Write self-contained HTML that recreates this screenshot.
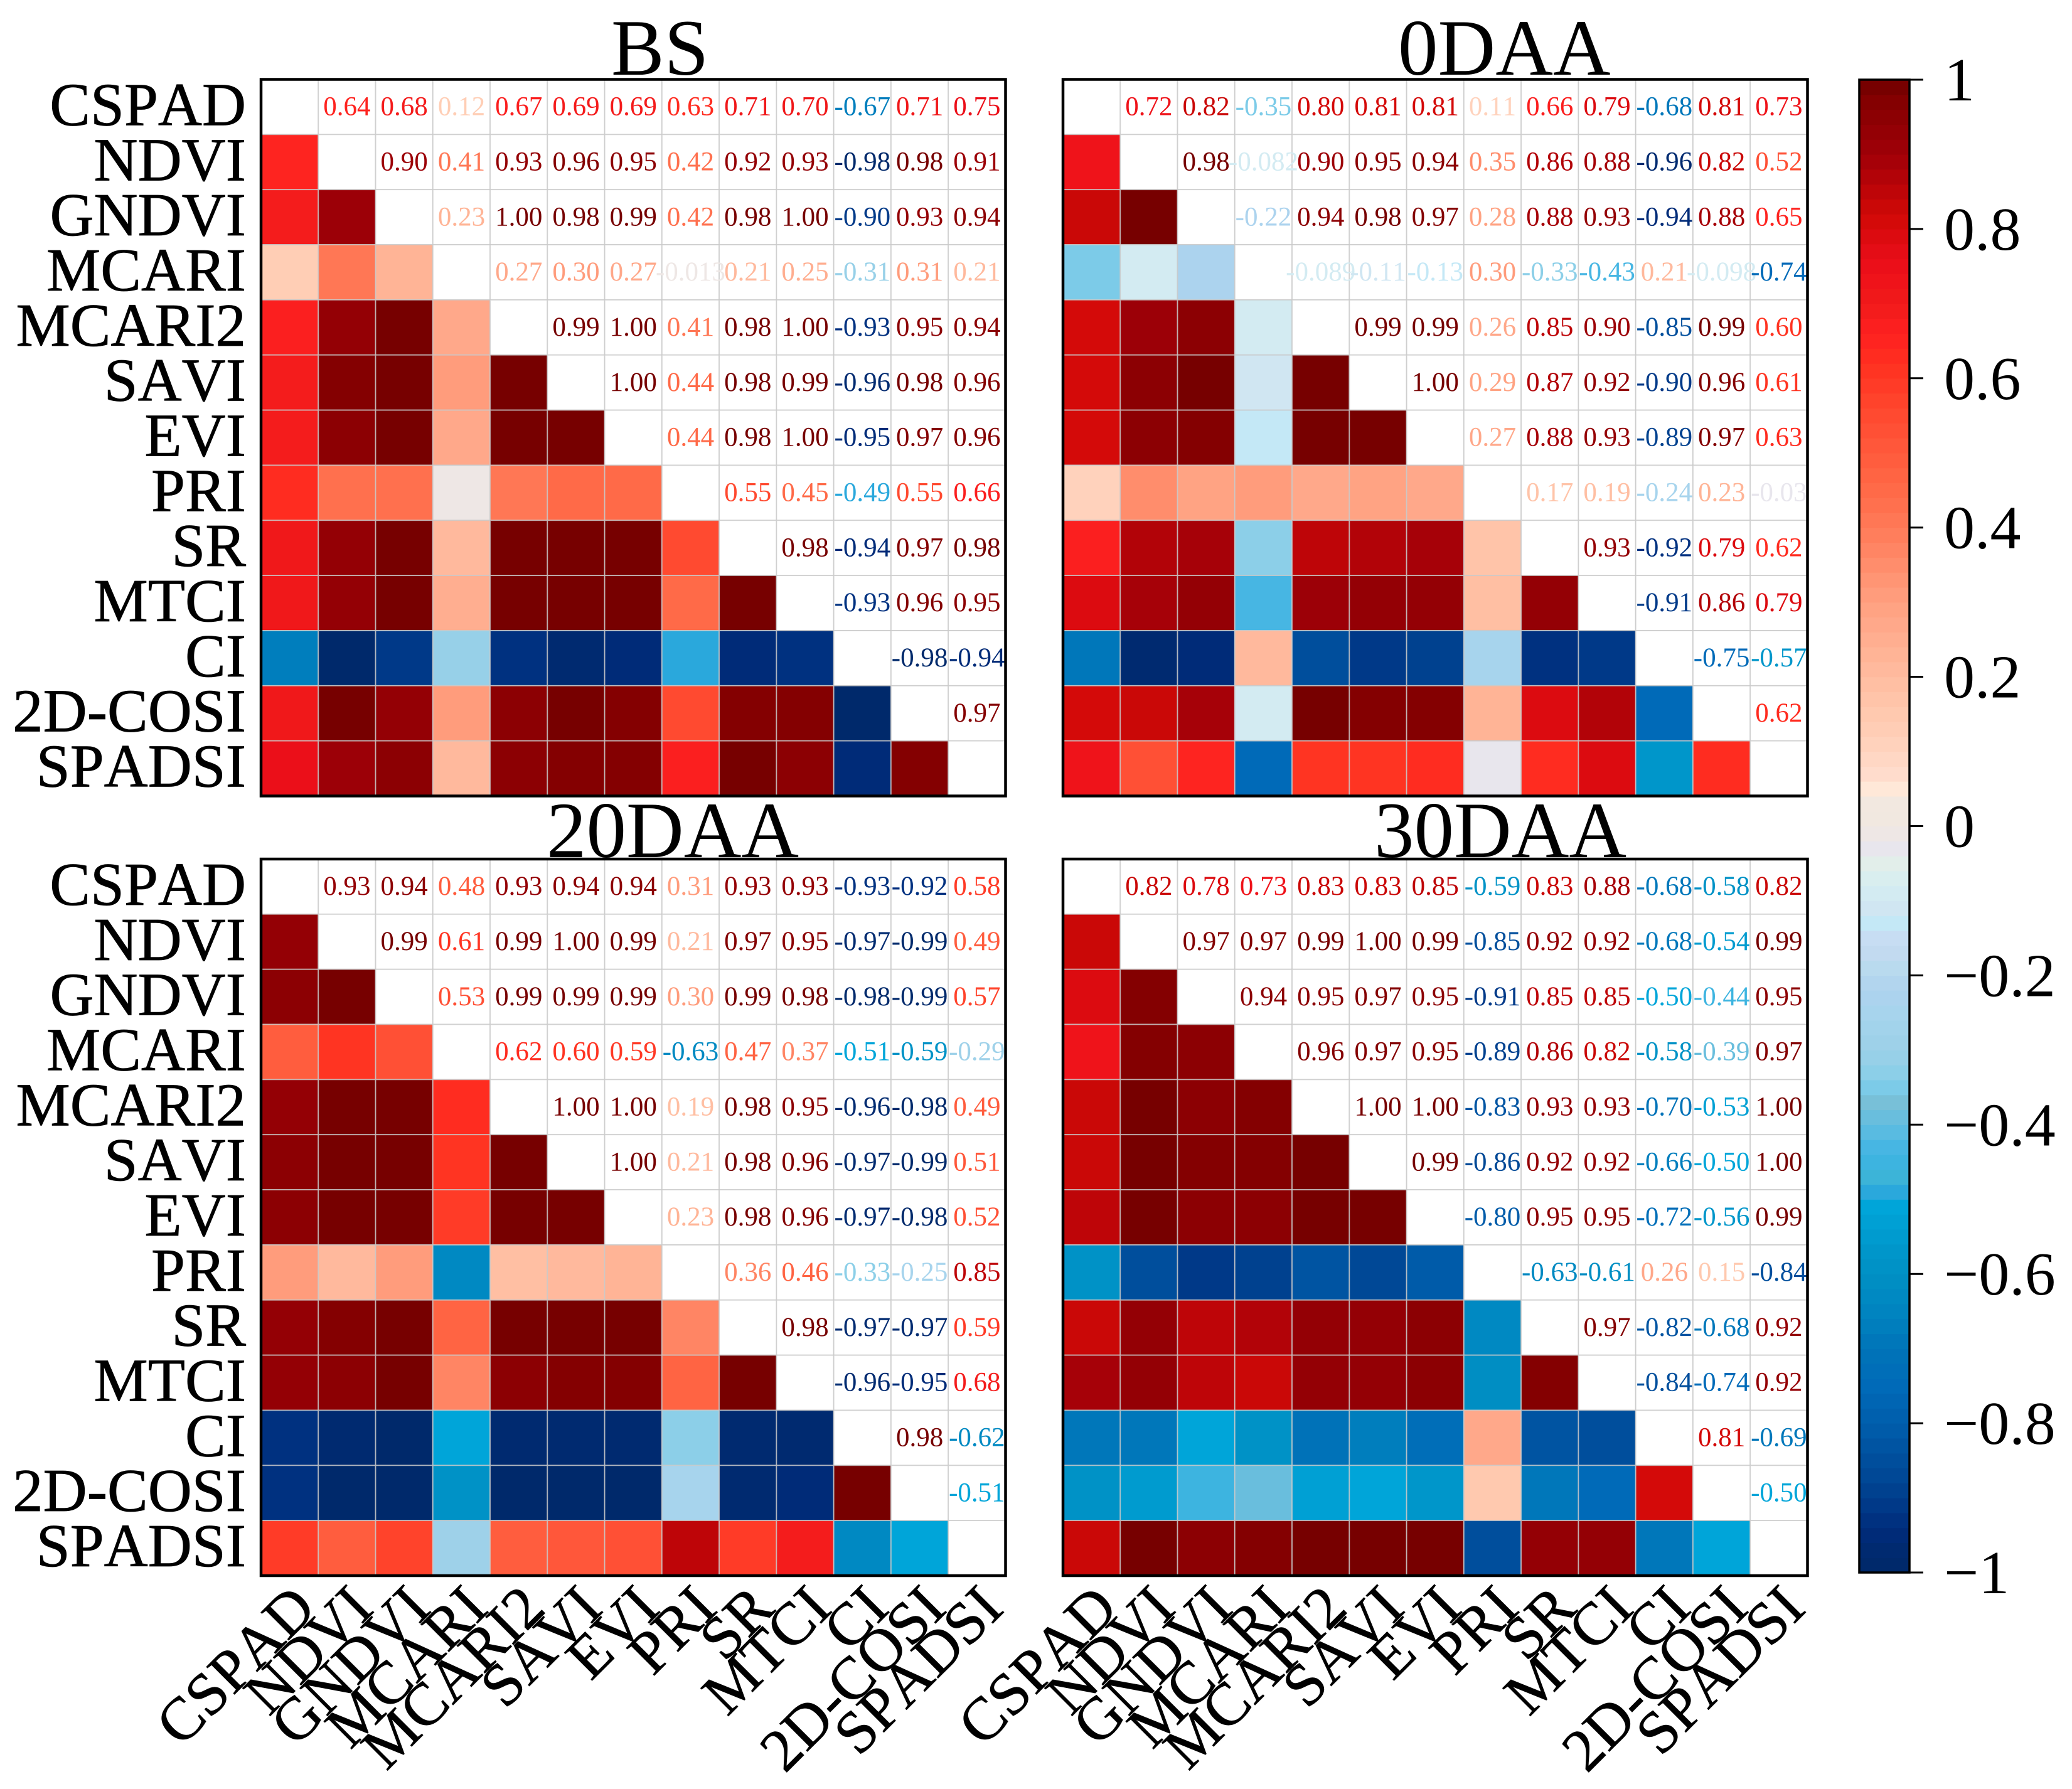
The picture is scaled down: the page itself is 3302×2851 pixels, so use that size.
<!DOCTYPE html>
<html lang="en">
<head>
<meta charset="utf-8">
<title>Correlation heatmaps</title>
<style>
html,body{margin:0;padding:0;background:#fff;}
svg{display:block;font-family:"Liberation Serif",serif;font-kerning:none;}
</style>
</head>
<body>
<svg id="chart" xmlns="http://www.w3.org/2000/svg" width="3302" height="2851" viewBox="0 0 3302 2851"></svg>
<script>
const categories = ["CSPAD","NDVI","GNDVI","MCARI","MCARI2","SAVI","EVI","PRI","SR","MTCI","CI","2D-COSI","SPADSI"];

const bsValues = [
[0.64,0.68,0.12,0.67,0.69,0.69,0.63,0.71,0.70,-0.67,0.71,0.75],
[0.90,0.41,0.93,0.96,0.95,0.42,0.92,0.93,-0.98,0.98,0.91],
[0.23,1.00,0.98,0.99,0.42,0.98,1.00,-0.90,0.93,0.94],
[0.27,0.30,0.27,-0.013,0.21,0.25,-0.31,0.31,0.21],
[0.99,1.00,0.41,0.98,1.00,-0.93,0.95,0.94],
[1.00,0.44,0.98,0.99,-0.96,0.98,0.96],
[0.44,0.98,1.00,-0.95,0.97,0.96],
[0.55,0.45,-0.49,0.55,0.66],
[0.98,-0.94,0.97,0.98],
[-0.93,0.96,0.95],
[-0.98,-0.94],
[0.97]
];
const daa0Values = [
[0.72,0.82,-0.35,0.80,0.81,0.81,0.11,0.66,0.79,-0.68,0.81,0.73],
[0.98,-0.082,0.90,0.95,0.94,0.35,0.86,0.88,-0.96,0.82,0.52],
[-0.22,0.94,0.98,0.97,0.28,0.88,0.93,-0.94,0.88,0.65],
[-0.089,-0.11,-0.13,0.30,-0.33,-0.43,0.21,-0.098,-0.74],
[0.99,0.99,0.26,0.85,0.90,-0.85,0.99,0.60],
[1.00,0.29,0.87,0.92,-0.90,0.96,0.61],
[0.27,0.88,0.93,-0.89,0.97,0.63],
[0.17,0.19,-0.24,0.23,-0.03],
[0.93,-0.92,0.79,0.62],
[-0.91,0.86,0.79],
[-0.75,-0.57],
[0.62]
];
const daa20Values = [
[0.93,0.94,0.48,0.93,0.94,0.94,0.31,0.93,0.93,-0.93,-0.92,0.58],
[0.99,0.61,0.99,1.00,0.99,0.21,0.97,0.95,-0.97,-0.99,0.49],
[0.53,0.99,0.99,0.99,0.30,0.99,0.98,-0.98,-0.99,0.57],
[0.62,0.60,0.59,-0.63,0.47,0.37,-0.51,-0.59,-0.29],
[1.00,1.00,0.19,0.98,0.95,-0.96,-0.98,0.49],
[1.00,0.21,0.98,0.96,-0.97,-0.99,0.51],
[0.23,0.98,0.96,-0.97,-0.98,0.52],
[0.36,0.46,-0.33,-0.25,0.85],
[0.98,-0.97,-0.97,0.59],
[-0.96,-0.95,0.68],
[0.98,-0.62],
[-0.51]
];
const daa30Values = [
[0.82,0.78,0.73,0.83,0.83,0.85,-0.59,0.83,0.88,-0.68,-0.58,0.82],
[0.97,0.97,0.99,1.00,0.99,-0.85,0.92,0.92,-0.68,-0.54,0.99],
[0.94,0.95,0.97,0.95,-0.91,0.85,0.85,-0.50,-0.44,0.95],
[0.96,0.97,0.95,-0.89,0.86,0.82,-0.58,-0.39,0.97],
[1.00,1.00,-0.83,0.93,0.93,-0.70,-0.53,1.00],
[0.99,-0.86,0.92,0.92,-0.66,-0.50,1.00],
[-0.80,0.95,0.95,-0.72,-0.56,0.99],
[-0.63,-0.61,0.26,0.15,-0.84],
[0.97,-0.82,-0.68,0.92],
[-0.84,-0.74,0.92],
[0.81,-0.69],
[-0.50]
];

const colorbarTicks = [1,0.8,0.6,0.4,0.2,0,-0.2,-0.4,-0.6,-0.8,-1];
const colorbarTickLabels = ["1","0.8","0.6","0.4","0.2","0","\u22120.2","\u22120.4","\u22120.6","\u22120.8","\u22121"];

/* colour ramp of the figure */
const rampStops = [
[1.00,"#6e0000"],[0.98,"#800000"],[0.94,"#900004"],[0.90,"#a00008"],[0.86,"#b80408"],[0.82,"#d00a06"],
[0.78,"#e00c14"],[0.74,"#ee101a"],[0.70,"#f01a1a"],[0.66,"#fe2020"],[0.62,"#ff3020"],[0.55,"#ff4a30"],
[0.45,"#ff6a48"],[0.40,"#ff7a58"],[0.30,"#ffa080"],[0.25,"#ffae90"],[0.20,"#ffbca0"],[0.12,"#ffd0b8"],
[0.07,"#ffdccc"],[0.05,"#ffe8d8"],[0.03,"#f2e8e0"],[0.00,"#f0e8e0"],[-0.02,"#ece6ea"],[-0.04,"#e4e6f0"],
[-0.05,"#e2eeea"],[-0.08,"#d4eef2"],[-0.11,"#d0e6f2"],[-0.13,"#c4e8f6"],[-0.16,"#c8d8f2"],[-0.18,"#bcdcee"],
[-0.22,"#aed2ee"],[-0.26,"#a4d4ec"],[-0.30,"#9cd0e8"],[-0.33,"#8ccfe8"],[-0.35,"#7ccbe8"],[-0.37,"#78c0d8"],
[-0.40,"#62bde0"],[-0.44,"#3eb4e4"],[-0.47,"#3cb4d8"],[-0.49,"#2aa8dc"],[-0.50,"#00a8dc"],[-0.56,"#0098cc"],
[-0.60,"#0090c4"],[-0.65,"#0084c0"],[-0.70,"#0074b8"],[-0.75,"#006ab8"],[-0.80,"#005eac"],[-0.85,"#004e9c"],
[-0.90,"#003e8c"],[-0.94,"#002c7c"],[-0.97,"#002a70"],[-1.00,"#002868"]
];

const NS = "http://www.w3.org/2000/svg";
const svg = document.getElementById("chart");
const LEVELS = 100;

function hexToRgb(h){return [parseInt(h.substr(1,2),16),parseInt(h.substr(3,2),16),parseInt(h.substr(5,2),16)];}
function ramp(v){
  for(let i=0;i<rampStops.length-1;i++){
    const a=rampStops[i],b=rampStops[i+1];
    if(v<=a[0]&&v>=b[0]){
      const t=(a[0]-v)/((a[0]-b[0])||1);
      const ca=hexToRgb(a[1]),cb=hexToRgb(b[1]);
      return "rgb("+ca.map((c,k)=>Math.round(c+(cb[k]-c)*t)).join(",")+")";
    }
  }
  return v>0?rampStops[0][1]:rampStops[rampStops.length-1][1];
}
function color(v){
  const pos=(v+1)/2*LEVELS;
  let lvl=Math.floor(v<0?pos-1e-6:pos+1e-6);
  if(lvl>=LEVELS)lvl=LEVELS-1;
  if(lvl<0)lvl=0;
  return ramp(-1+(lvl+0.5)*2/LEVELS);
}
function fmt(v){return Math.abs(v)<0.1?String(v):v.toFixed(2);}
function mk(tag,attrs,parent){
  const e=document.createElementNS(NS,tag);
  for(const k in attrs)e.setAttribute(k,attrs[k]);
  (parent||svg).appendChild(e);
  return e;
}
const N=categories.length;
function valueAt(tri,r,c){
  if(r===c)return null;
  const a=Math.min(r,c),b=Math.max(r,c);
  return tri[a][b-a-1];
}

function drawPanel(cfg){
  const g=mk("g",{});
  
  
  const cw=(cfg.x1-cfg.x0)/N, ch=(cfg.y1-cfg.y0)/N;
  const xScale=i=>cfg.x0+i*cw;
  const yScale=i=>cfg.y0+i*ch;

  for(let r=0;r<N;r++){
    for(let c=0;c<N;c++){
      const v=valueAt(cfg.values,r,c);
      const fill=(c<r)?color(v):"#ffffff";
      const rect=mk("rect",{x:xScale(c),y:yScale(r),width:cw,height:ch,fill:fill,stroke:"#c9c9c9","stroke-opacity":"0.8","stroke-width":"1.8"},g);
      
      
    }
  }
  for(let r=0;r<N;r++){
    for(let c=r+1;c<N;c++){
      const v=valueAt(cfg.values,r,c);
      const t=mk("text",{x:xScale(c)+cw/2,y:yScale(r)+ch/2+13.2,"text-anchor":"middle","font-size":"43",fill:color(v)},g);
      
      
      t.textContent=fmt(v);
    }
  }
  const frame=mk("rect",{x:cfg.x0,y:cfg.y0,width:cfg.x1-cfg.x0,height:cfg.y1-cfg.y0,fill:"none",stroke:"#000","stroke-width":"4.5"},g);
  
  

  const title=mk("text",{x:cfg.titleX,y:cfg.titleY,"font-size":"127",fill:"#000"},g);
  
  
  title.textContent=cfg.title;

  if(cfg.rowLabels){
    categories.forEach((name,r)=>{
      const t=mk("text",{x:392,y:yScale(r)+ch/2+29,"text-anchor":"end","font-size":"97",fill:"#000",stroke:"#000","stroke-width":"0.8"},g);
      
      
      t.textContent=name;
    });
  }
  if(cfg.colLabels){
    categories.forEach((name,c)=>{
      const px=xScale(c)+cw/2+45.5, py=2567;
      const t=mk("text",{x:px,y:py,"text-anchor":"end","font-size":"96",fill:"#000",stroke:"#000","stroke-width":"0.8",transform:"rotate(-45 "+px+" "+py+")"},g);
      
      
      t.textContent=name;
    });
  }
}

drawPanel({key:"bs",title:"BS",values:bsValues,x0:416,x1:1602.5,y0:126.5,y1:1268.5,titleX:974,titleY:119,rowLabels:true,colLabels:false});
drawPanel({key:"0daa",title:"0DAA",values:daa0Values,x0:1694,x1:2880.5,y0:126.5,y1:1268.5,titleX:2228,titleY:119,rowLabels:false,colLabels:false});
drawPanel({key:"20daa",title:"20DAA",values:daa20Values,x0:416,x1:1602.5,y0:1369,y1:2511,titleX:871,titleY:1366,rowLabels:true,colLabels:true});
drawPanel({key:"30daa",title:"30DAA",values:daa30Values,x0:1694,x1:2880.5,y0:1369,y1:2511,titleX:2190,titleY:1366,rowLabels:false,colLabels:true});

/* colourbar */
(function(){
  const cb={x0:2963,x1:3043,y0:127,y1:2506};
  const yOf=v=>cb.y0+(1-v)/2*(cb.y1-cb.y0);
  const g=mk("g",{});
  
  
  for(let i=0;i<LEVELS;i++){
    const lo=-1+i*2/LEVELS, hi=lo+2/LEVELS;
    const r=mk("rect",{x:cb.x0,y:yOf(hi),width:cb.x1-cb.x0,height:yOf(lo)-yOf(hi)+0.6,fill:ramp((lo+hi)/2)},g);
    
    
  }
  const f=mk("rect",{x:cb.x0,y:cb.y0,width:cb.x1-cb.x0,height:cb.y1-cb.y0,fill:"none",stroke:"#000","stroke-width":"3.5"},g);
  
  
  colorbarTicks.forEach((v,i)=>{
    const y=yOf(v);
    const l=mk("line",{x1:cb.x1,x2:cb.x1+22,y1:y,y2:y,stroke:"#000","stroke-width":"3"},g);
    
    
    const t=mk("text",{x:3098,y:y+33,"font-size":"98",fill:"#000"},g);
    
    
    t.textContent=colorbarTickLabels[i];
  });
})();
</script>
</body>
</html>
